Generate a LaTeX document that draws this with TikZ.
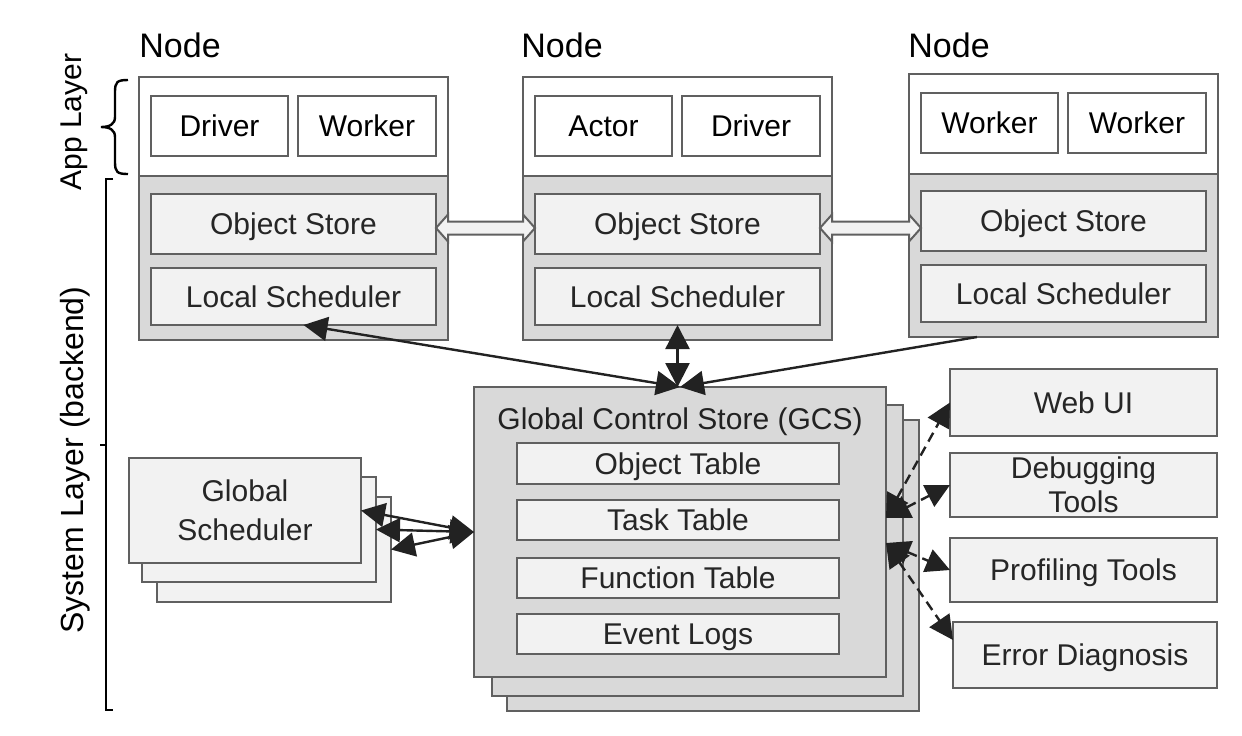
\documentclass[tikz,border=0pt]{standalone}
\usepackage{fontspec}
\setmainfont{Liberation Sans}
\usetikzlibrary{arrows.meta,calc,fit}
\definecolor{bord}{HTML}{606060}
\definecolor{sysg}{HTML}{D9D9D9}
\definecolor{lite}{HTML}{F2F2F2}
\definecolor{txt}{HTML}{262626}
\definecolor{ink}{HTML}{222222}
\tikzset{bigtri/.tip={Triangle[length=12pt,width=12pt]}}
\newcommand\hollowarrow[2]{%
  \draw[hollowarr] (#1) -- ++(12,-13.5) -- ++(0,7) -- ($(#2)+(-12,-6.5)$) -- ++(0,-7) -- (#2)
    -- ++(-12,13.5) -- ++(0,-7) -- ($(#1)+(12,6.5)$) -- ++(0,7) -- cycle;}
\begin{document}
\begin{tikzpicture}[x=0.5pt,y=-0.5pt,
  boxbase/.style={draw=bord, line width=1pt, inner sep=0pt, outer sep=0pt},
  bt/.style={font=\fontsize{15}{17}\selectfont, text height=10.7pt, text depth=0pt, inner sep=0pt},
  bt2/.style={font=\fontsize{15}{#1}\selectfont, align=center, inner sep=0pt},
  whitebox/.style={boxbase, fill=white},
  litebox/.style={boxbase, fill=lite},
  sysbox/.style={draw=bord, line width=1.2pt, fill=sysg, inner sep=0pt, outer sep=0pt},
  appbox/.style={draw=bord, line width=1.2pt, fill=white, inner sep=0pt, outer sep=0pt},
  nodelabel/.style={font=\fontsize{17}{20}\selectfont, anchor=base west, inner sep=0pt},
  layerlabel/.style={rotate=90, inner sep=0pt},
  hollowarr/.style={draw=bord, line width=1pt, fill=lite, line join=miter},
  solidarr/.style={draw=ink, line width=1.2pt},
  dasharr/.style={draw=ink, line width=1.2pt, dash pattern=on 5pt off 3pt},
  bracestyle/.style={draw=black, line width=1.2pt}
]
\useasboundingbox (0,0) rectangle (1242,735);

% ---------- layer labels and braces ----------
\node[layerlabel, font=\fontsize{15}{18}\selectfont] (applab) at (74,122) {App Layer};
\node[layerlabel, font=\fontsize{16}{19}\selectfont] (syslab) at (75,460) {System Layer (backend)};
\draw[bracestyle] (128,80) .. controls (117,80) and (115,82) .. (115,92) -- (115,117)
  .. controls (115,124) and (110,127) .. (101,127)
  .. controls (110,127) and (115,130) .. (115,137) -- (115,162)
  .. controls (115,172) and (117,174) .. (128,174);
\draw[bracestyle] (113,179) -- (106,179) -- (106,710) -- (113,710);
\draw[bracestyle] (106,445) -- (100,445);

% ---------- Node 1 ----------
\node[nodelabel] (lab1) at (139,57) {Node};
\node[appbox, fit={(139,77) (448,176)}] (n1a) {};
\node[sysbox, fit={(139,176) (448,340)}] (n1s) {};
\node[whitebox, fit={(151,96) (288,156)}, label={[bt,text=black]center:Driver}] (drv1) {};
\node[whitebox, fit={(298,96) (436,156)}, label={[bt,text=black]center:Worker}] (wrk1) {};
\node[litebox, fit={(151,194) (436,254)}, label={[bt,text=txt]center:Object Store}] (os1) {};
\node[litebox, fit={(151,268) (436,325)}, label={[bt,text=txt]center:Local Scheduler}] (ls1) {};

% ---------- Node 2 ----------
\node[nodelabel] (lab2) at (521,57) {Node};
\node[appbox, fit={(523,77) (832,176)}] (n2a) {};
\node[sysbox, fit={(523,176) (832,340)}] (n2s) {};
\node[whitebox, fit={(535,96) (672,156)}, label={[bt,text=black]center:Actor}] (act2) {};
\node[whitebox, fit={(682,96) (820,156)}, label={[bt,text=black]center:Driver}] (drv2) {};
\node[litebox, fit={(535,194) (820,254)}, label={[bt,text=txt]center:Object Store}] (os2) {};
\node[litebox, fit={(535,268) (820,325)}, label={[bt,text=txt]center:Local Scheduler}] (ls2) {};

% ---------- Node 3 ----------
\node[nodelabel] (lab3) at (908,57) {Node};
\node[appbox, fit={(909,74) (1218,174)}] (n3a) {};
\node[sysbox, fit={(909,174) (1218,337)}] (n3s) {};
\node[whitebox, fit={(921,93) (1058,153)}, label={[bt,text=black]center:Worker}] (wrk3a) {};
\node[whitebox, fit={(1068,93) (1206,153)}, label={[bt,text=black]center:Worker}] (wrk3b) {};
\node[litebox, fit={(921,191) (1206,251)}, label={[bt,text=txt]center:Object Store}] (os3) {};
\node[litebox, fit={(921,265) (1206,322)}, label={[bt,text=txt]center:Local Scheduler}] (ls3) {};

% ---------- Global Scheduler stack ----------
\node[litebox, fit={(157,497) (391,602)}] (gs3) {};
\node[litebox, fit={(142,477) (376,582)}] (gs2) {};
\node[litebox, fit={(129,458) (361,563)}, label={[bt2=19.5,text=txt]center:{Global\\Scheduler}}] (gs1) {};

% ---------- GCS stack ----------
\node[sysbox, line width=1pt, fit={(507,420) (919,711)}] (gcs3) {};
\node[sysbox, line width=1pt, fit={(492,405) (903,696)}] (gcs2) {};
\node[sysbox, line width=1pt, fit={(474,387) (886,677)}] (gcs) {};
\node[bt, text=ink] (gcst) at (680,419) {Global Control Store (GCS)};
\node[litebox, fit={(517,443) (839,484)}, label={[bt,text=txt]center:Object Table}] (objt) {};
\node[litebox, fit={(517,500) (839,540)}, label={[bt,text=txt]center:Task Table}] (taskt) {};
\node[litebox, fit={(517,558) (839,598)}, label={[bt,text=txt]center:Function Table}] (funct) {};
\node[litebox, fit={(517,614) (839,654)}, label={[bt,text=txt]center:Event Logs}] (evt) {};

% ---------- Tools ----------
\node[litebox, fit={(950,369) (1217,436)}, label={[bt,text=txt]center:Web UI}] (web) {};
\node[litebox, fit={(950,453) (1217,517)}, label={[bt2=17,text=txt]center:{Debugging\\Tools}}] (dbg) {};
\node[litebox, fit={(950,538) (1217,602)}, label={[bt,text=txt]center:Profiling Tools}] (prof) {};
\node[litebox, fit={(953,622) (1217,688)}, label={[bt,text=txt]center:Error Diagnosis}] (err) {};

% ---------- hollow arrows between object stores ----------
\coordinate (h1a) at ($(os1.east)+(0,4)$);
\coordinate (h1b) at (os2.west |- h1a);
\hollowarrow{h1a}{h1b}
\coordinate (h2a) at ($(os2.east)+(0,4)$);
\coordinate (h2b) at (os3.west |- h2a);
\hollowarrow{h2a}{h2b}

% ---------- local schedulers <-> GCS ----------
\coordinate (ls1p) at ($(ls1.south)+(10,0)$);
\coordinate (n3p) at ($(n3s.south west)+(68,0)$);
\draw[solidarr, {bigtri}-{bigtri}] (ls1p) -- (gcs.north);
\draw[solidarr, {bigtri}-{bigtri}] (ls2.south) -- (ls2.south |- gcs.north);
\draw[solidarr, -{bigtri}] (n3p) -- (gcs.north);

% ---------- global scheduler <-> GCS ----------
\draw[solidarr, {bigtri}-{bigtri}] (gs1.east) -- (gcs.west);
\draw[solidarr, {bigtri}-{bigtri}] (gs2.east) -- (gcs.west);
\draw[solidarr, {bigtri}-{bigtri}] (gs3.east) -- (gcs.west);

% ---------- GCS <-> tools ----------
\coordinate (gcsr1) at ($(gcs.east)+(0,-14)$);
\coordinate (gcsr2) at ($(gcs.east)+(0,11)$);
\coordinate (errp) at ($(err.west)+(0,-15)$);
\draw[dasharr, {bigtri}-{bigtri}] (gcsr1) -- (web.west);
\draw[dasharr, {bigtri}-{bigtri}] (gcsr1) -- (dbg.west);
\draw[dasharr, {bigtri}-{bigtri}] (gcsr2) -- (prof.west);
\draw[dasharr, {bigtri}-{bigtri}] (gcsr2) -- (errp);
\end{tikzpicture}
\end{document}
